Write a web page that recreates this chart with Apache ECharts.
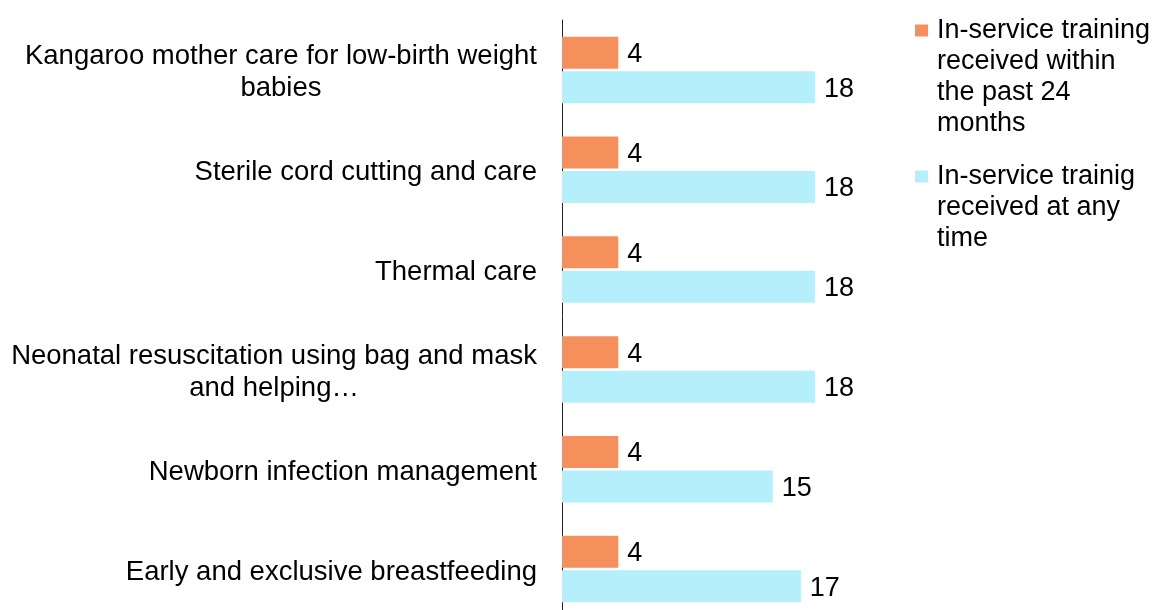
<!DOCTYPE html>
<html>
<head>
<meta charset="utf-8">
<script src="https://cdn.jsdelivr.net/npm/echarts@6/dist/echarts.min.js"></script>
<style>
html,body{margin:0;padding:0;background:#fff;}
#chart{width:1155px;height:610px;}
</style>
</head>
<body>
<div id="chart"></div>
<script>
var categories = [
  'Kangaroo mother care for low-birth weight\nbabies',
  'Sterile cord cutting and care',
  'Thermal care',
  'Neonatal resuscitation using bag and mask\nand helping…',
  'Newborn infection management',
  'Early and exclusive breastfeeding'
];
var seriesNames = [
  'In-service training received within the past 24 months',
  'In-service trainig received at any time'
];
var legendLines = [
  ['In-service training', 'received within', 'the past 24', 'months'],
  ['In-service trainig', 'received at any', 'time']
];
var past24Months = [4, 4, 4, 4, 4, 4];
var anyTime = [18, 18, 18, 18, 15, 17];
var colors = ['#F5905C', '#B5EFFB'];

var FONT = '"Liberation Sans", Arial, sans-serif';
var FS = 27;
var CAT_FS = 27.5;

var chart = echarts.init(document.getElementById('chart'));
chart.setOption({
  animation: false,
  backgroundColor: '#ffffff',
  grid: { left: 562, top: 20, width: 281, height: 599, containLabel: false, outerBoundsMode: 'none' },
  xAxis: {
    type: 'value', min: 0, max: 20,
    show: false, splitLine: { show: false }
  },
  yAxis: {
    type: 'category', data: categories, inverse: true,
    axisLine: { show: true, lineStyle: { color: '#222', width: 1 } },
    axisTick: { show: false },
    axisLabel: {
      margin: 25,
      fontFamily: FONT, fontSize: CAT_FS, color: '#000', lineHeight: 32,
      padding: [6, 0, 0, 0],
      formatter: function (v) {
        return v.split('\n').map(function (l) { return '{c|' + l + '}'; }).join('\n');
      },
      rich: { c: { align: 'center', fontFamily: FONT, fontSize: CAT_FS, color: '#000', lineHeight: 32 } }
    }
  },
  legend: {
    orient: 'vertical', left: 910, top: 15, padding: 0, itemGap: 22,
    itemWidth: 0, itemHeight: 0,
    data: seriesNames,
    formatter: function (name) {
      var i = seriesNames.indexOf(name);
      var lines = legendLines[i];
      return lines.map(function (l, k) {
        return (k === 0 ? '{sq' + i + '| }{g| }' : '{sp| }') + '{t|' + l + '}';
      }).join('\n');
    },
    textStyle: {
      fontFamily: FONT, fontSize: FS, color: '#000', lineHeight: 31,
      rich: {
        sq0: { width: 13, height: 12, backgroundColor: colors[0] },
        sq1: { width: 13, height: 12, backgroundColor: colors[1] },
        g: { width: 9 },
        sp: { width: 22 },
        t: { fontFamily: FONT, fontSize: FS, color: '#000', lineHeight: 31 }
      }
    }
  },
  series: [
    {
      name: seriesNames[0], type: 'bar', data: past24Months,
      barWidth: 32, barGap: '8%',
      itemStyle: { color: colors[0] },
      label: { show: true, position: 'right', distance: 9, offset: [0, 2], fontFamily: FONT, fontSize: FS, color: '#000' }
    },
    {
      name: seriesNames[1], type: 'bar', data: anyTime,
      barWidth: 32, barGap: '8%',
      itemStyle: { color: colors[1] },
      label: { show: true, position: 'right', distance: 9, offset: [0, 2], fontFamily: FONT, fontSize: FS, color: '#000' }
    }
  ]
});
</script>
</body>
</html>
